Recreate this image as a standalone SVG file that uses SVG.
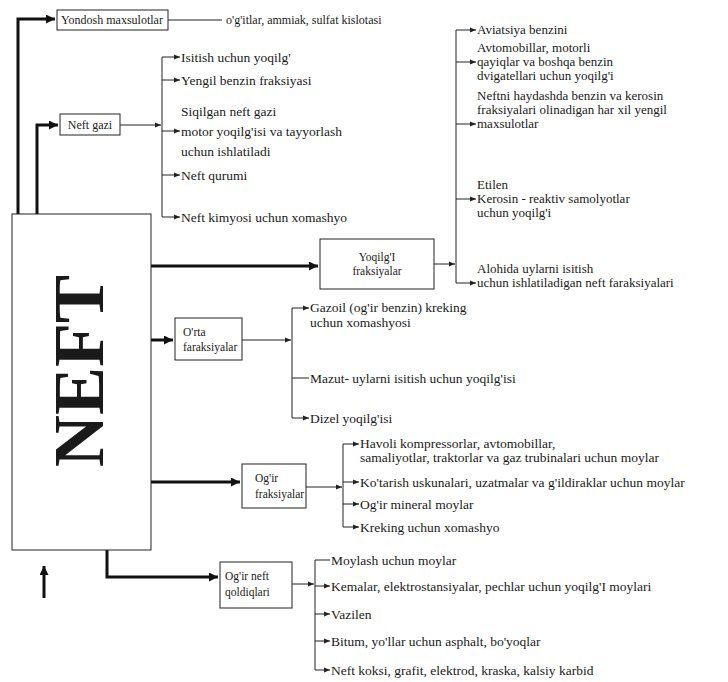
<svg xmlns="http://www.w3.org/2000/svg" width="728" height="682" viewBox="0 0 728 682">
<style>
text{font-family:"Liberation Serif","Times New Roman",serif;font-size:13.5px;fill:#1a1a1a}
.s{font-size:12px}
.b{font-size:11.5px}
.r{font-size:13px}
.box{fill:#fff;stroke:#222;stroke-width:1}
.th{fill:none;stroke:#111;stroke-width:3}
.tn{fill:none;stroke:#222;stroke-width:1}
</style>
<defs>
<marker id="a" markerUnits="userSpaceOnUse" markerWidth="7" markerHeight="6" refX="6" refY="3" orient="auto"><path d="M0,0.5 L6,3 L0,5.5 Z" fill="#222"/></marker>
<marker id="A" markerUnits="userSpaceOnUse" markerWidth="10" markerHeight="9" refX="9" refY="4.5" orient="auto"><path d="M0,0 L9,4.5 L0,9 Z" fill="#111"/></marker>
</defs>
<rect width="728" height="682" fill="#fff"/>
<g id="connectors">
<path class="th" d="M18,214 V19 H55" marker-end="url(#A)"/>
<path class="th" d="M37,214 V125 H58" marker-end="url(#A)"/>
<path class="th" d="M151,266 H318" marker-end="url(#A)"/>
<path class="th" d="M151,340 H173" marker-end="url(#A)"/>
<path class="th" d="M151,482 H240" marker-end="url(#A)"/>
<path class="th" d="M107,550 V577 H218" marker-end="url(#A)"/>
<path class="th" d="M44,598 V566" marker-end="url(#A)"/>
<path class="tn" d="M168,20 H222"/>
<path class="tn" d="M120,125 H161" marker-end="url(#a)"/>
<path class="tn" d="M162,57 V217"/>
<path class="tn" d="M162,57 H180" marker-end="url(#a)"/>
<path class="tn" d="M162,80 H180" marker-end="url(#a)"/>
<path class="tn" d="M162,131 H180" marker-end="url(#a)"/>
<path class="tn" d="M162,175 H180" marker-end="url(#a)"/>
<path class="tn" d="M162,217 H180" marker-end="url(#a)"/>
<path class="tn" d="M434,264 H455" marker-end="url(#a)"/>
<path class="tn" d="M456,30 V283"/>
<path class="tn" d="M456,30 H476" marker-end="url(#a)"/>
<path class="tn" d="M456,62 H476" marker-end="url(#a)"/>
<path class="tn" d="M456,124 H476" marker-end="url(#a)"/>
<path class="tn" d="M456,199 H476" marker-end="url(#a)"/>
<path class="tn" d="M456,283 H476" marker-end="url(#a)"/>
<path class="tn" d="M242,340 H291" marker-end="url(#a)"/>
<path class="tn" d="M292,308 V418"/>
<path class="tn" d="M292,308 H309" marker-end="url(#a)"/>
<path class="tn" d="M292,378 H309"/>
<path class="tn" d="M292,418 H309" marker-end="url(#a)"/>
<path class="tn" d="M306,487 H342" marker-end="url(#a)"/>
<path class="tn" d="M343,444 V527"/>
<path class="tn" d="M343,444 H359" marker-end="url(#a)"/>
<path class="tn" d="M343,482 H359" marker-end="url(#a)"/>
<path class="tn" d="M343,504 H359" marker-end="url(#a)"/>
<path class="tn" d="M343,527 H359" marker-end="url(#a)"/>
<path class="tn" d="M292,584 H314" marker-end="url(#a)"/>
<path class="tn" d="M315,560 V670"/>
<path class="tn" d="M315,560 H330"/>
<path class="tn" d="M315,586 H330" marker-end="url(#a)"/>
<path class="tn" d="M315,614 H330" marker-end="url(#a)"/>
<path class="tn" d="M315,641 H330" marker-end="url(#a)"/>
<path class="tn" d="M315,670 H330" marker-end="url(#a)"/>
</g>
<g id="neft">
<rect class="box" x="12" y="214" width="139" height="336"/>
<text transform="translate(103,371) rotate(-90)" text-anchor="middle" style="font-size:72px;font-weight:bold">NEFT</text>
</g>
<g id="yondosh">
<rect class="box" x="57" y="10" width="111" height="20"/>
<text class="s" x="112" y="24" text-anchor="middle">Yondosh maxsulotlar</text>
<text class="s" x="226" y="24">o'g'itlar, ammiak, sulfat kislotasi</text>
</g>
<g id="neftgazi">
<rect class="box" x="60" y="114" width="60" height="21"/>
<text class="s" x="90" y="129" text-anchor="middle">Neft gazi</text>
<text x="181" y="62">Isitish uchun yoqilg'</text>
<text x="181" y="85">Yengil benzin fraksiyasi</text>
<text x="181" y="116">Siqilgan neft gazi</text>
<text x="181" y="136">motor yoqilg'isi va tayyorlash</text>
<text x="181" y="156">uchun ishlatiladi</text>
<text x="181" y="180">Neft qurumi</text>
<text x="181" y="222">Neft kimyosi uchun xomashyo</text>
</g>
<g id="yoqilgi">
<rect class="box" x="320" y="239" width="114" height="50"/>
<text class="b" x="377" y="261" text-anchor="middle">Yoqilg'I</text>
<text class="b" x="377" y="275" text-anchor="middle">fraksiyalar</text>
<text class="r" x="477" y="34">Aviatsiya benzini</text>
<text class="r" x="477" y="52">Avtomobillar, motorli</text>
<text class="r" x="477" y="66">qayiqlar va boshqa benzin</text>
<text class="r" x="477" y="80">dvigatellari uchun yoqilg'i</text>
<text class="r" x="477" y="100">Neftni haydashda benzin va kerosin</text>
<text class="r" x="477" y="114">fraksiyalari olinadigan har xil yengil</text>
<text class="r" x="477" y="128">maxsulotlar</text>
<text class="r" x="477" y="189">Etilen</text>
<text class="r" x="477" y="203">Kerosin - reaktiv samolyotlar</text>
<text class="r" x="477" y="217">uchun yoqilg'i</text>
<text class="r" x="477" y="273">Alohida uylarni isitish</text>
<text class="r" x="477" y="287">uchun ishlatiladigan neft faraksiyalari</text>
</g>
<g id="orta">
<rect class="box" x="175" y="318" width="67" height="42"/>
<text class="b" x="183" y="336">O'rta</text>
<text class="b" x="183" y="351">faraksiyalar</text>
<text x="310" y="312">Gazoil (og'ir benzin) kreking</text>
<text x="310" y="327">uchun xomashyosi</text>
<text x="310" y="383">Mazut- uylarni isitish uchun yoqilg'isi</text>
<text x="310" y="423">Dizel yoqilg'isi</text>
</g>
<g id="ogir">
<rect class="box" x="242" y="464" width="64" height="44"/>
<text class="b" x="255" y="482">Og'ir</text>
<text class="b" x="255" y="498">fraksiyalar</text>
<text x="360" y="448">Havoli kompressorlar, avtomobillar,</text>
<text x="360" y="462">samaliyotlar, traktorlar va gaz trubinalari uchun moylar</text>
<text x="360" y="487">Ko'tarish uskunalari, uzatmalar va g'ildiraklar uchun moylar</text>
<text x="360" y="509">Og'ir mineral moylar</text>
<text x="360" y="532">Kreking uchun xomashyo</text>
</g>
<g id="qoldiq">
<rect class="box" x="220" y="562" width="72" height="46"/>
<text class="b" x="225" y="580">Og'ir neft</text>
<text class="b" x="225" y="596">qoldiqlari</text>
<text x="331" y="565">Moylash uchun moylar</text>
<text x="331" y="591">Kemalar, elektrostansiyalar, pechlar uchun yoqilg'I moylari</text>
<text x="331" y="619">Vazilen</text>
<text x="331" y="646">Bitum, yo'llar uchun asphalt, bo'yoqlar</text>
<text x="331" y="675">Neft koksi, grafit, elektrod, kraska, kalsiy karbid</text>
</g>
</svg>
